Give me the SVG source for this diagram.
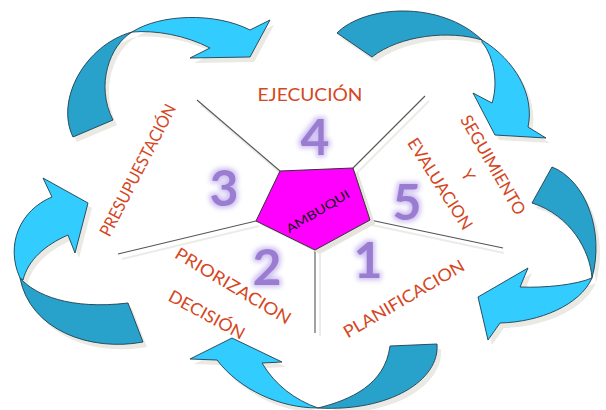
<svg xmlns="http://www.w3.org/2000/svg" xmlns:xlink="http://www.w3.org/1999/xlink" width="606" height="410" viewBox="0 0 606 410">
<style>
.sh{fill:#ebe9e3;stroke:none}
.dk{fill:#29a2cb;stroke:#1d3f50;stroke-width:0.9;stroke-linejoin:round}
.lt{fill:#33ccff;stroke:#1d3f50;stroke-width:0.9;stroke-linejoin:round}
.ray{stroke:#555;stroke-width:1.1;fill:none}
.raysh{stroke:#ecebe7;stroke-width:2;fill:none}
.lbl{font-family:Lato,"Open Sans","Liberation Sans",sans-serif;font-size:17px;fill:#d5471f;text-anchor:middle}
.num{font-family:Lato,"Liberation Sans",sans-serif;font-weight:bold;font-size:50px;fill:#9a7dd0;text-anchor:middle;filter:url(#glow)}
</style>
<defs>
<filter id="glow" x="-50%" y="-50%" width="200%" height="200%">
<feMorphology in="SourceAlpha" operator="dilate" radius="1.5" result="d"/>
<feGaussianBlur in="d" stdDeviation="2.5" result="db"/>
<feFlood flood-color="#cbbcf0" result="c"/>
<feComposite in="c" in2="db" operator="in" result="halo"/>
<feGaussianBlur in="SourceGraphic" stdDeviation="0.6" result="s"/>
<feMerge><feMergeNode in="halo"/><feMergeNode in="s"/></feMerge>
</filter>
<path id="a1d" d="M73,137 C55,100 85,45 132,32 C110,45 95,85 113,120 Z"/>
<path id="a1l" d="M132,32 C160,14 215,12 250,30 L270,20 L250,57 L190,58 L210,48 C185,35 155,30 132,32 Z"/>
<path id="a2d" d="M337,33 C365,5 440,0 482,40 C450,30 400,35 372,57 Z"/>
<path id="a2l" d="M482,40 C515,60 535,95 528,127 L546,138 L495,135 L473,93 L492,103 C498,85 495,58 482,42 Z"/>
<path id="a3d" d="M552,167 C585,180 605,230 592,278 C590,250 570,215 532,203 Z"/>
<path id="a3l" d="M592,278 C580,305 540,322 500,323 L488,340 L478,297 L528,268 L520,287 C545,288 575,285 592,278 Z"/>
<path id="a4d" d="M437,344 C440,380 390,412 318,408 C350,400 385,385 390,346 Z"/>
<path id="a4l" d="M318,408 C280,408 240,390 217,360 L190,359 L232,338 L282,362 L262,363 C275,385 295,400 318,408 Z"/>
<path id="a5d" d="M143,342 C90,352 30,330 20,278 C35,295 70,310 128,303 Z"/>
<path id="a5l" d="M20,278 C5,245 20,210 52,197 L43,178 L88,203 L75,253 L68,235 C45,245 28,260 23,280 Z"/>
</defs>
<rect width="606" height="410" fill="#ffffff"/>
<g id="connectors">
<g id="arrow1">
<use xlink:href="#a1d" class="sh" transform="translate(4,5)"/>
<use xlink:href="#a1l" class="sh" transform="translate(4,5)"/>
<use xlink:href="#a1d" class="dk"/>
<use xlink:href="#a1l" class="lt"/>
</g>
<g id="arrow2">
<use xlink:href="#a2d" class="sh" transform="translate(4,5)"/>
<use xlink:href="#a2l" class="sh" transform="translate(4,5)"/>
<use xlink:href="#a2d" class="dk"/>
<use xlink:href="#a2l" class="lt"/>
</g>
<g id="arrow3">
<use xlink:href="#a3d" class="sh" transform="translate(4,5)"/>
<use xlink:href="#a3l" class="sh" transform="translate(4,5)"/>
<use xlink:href="#a3d" class="dk"/>
<use xlink:href="#a3l" class="lt"/>
</g>
<g id="arrow4">
<use xlink:href="#a4d" class="sh" transform="translate(4,5)"/>
<use xlink:href="#a4l" class="sh" transform="translate(4,5)"/>
<use xlink:href="#a4d" class="dk"/>
<use xlink:href="#a4l" class="lt"/>
</g>
<g id="arrow5">
<use xlink:href="#a5d" class="sh" transform="translate(4,5)"/>
<use xlink:href="#a5l" class="sh" transform="translate(4,5)"/>
<use xlink:href="#a5d" class="dk"/>
<use xlink:href="#a5l" class="lt"/>
</g>
</g>
<g id="rays">
<line class="raysh" x1="283" y1="175" x2="201" y2="105"/>
<line class="raysh" x1="357" y1="173" x2="429" y2="101"/>
<line class="raysh" x1="372" y1="225" x2="504" y2="253"/>
<line class="raysh" x1="320" y1="254" x2="320" y2="336"/>
<line class="raysh" x1="259" y1="226" x2="122" y2="259"/>
<line class="ray" x1="280" y1="171" x2="197" y2="100"/>
<line class="ray" x1="353" y1="168" x2="425" y2="96"/>
<line class="ray" x1="370" y1="220" x2="503" y2="248"/>
<line class="ray" x1="315" y1="250" x2="315" y2="333"/>
<line class="ray" x1="256" y1="221" x2="118" y2="254"/>
</g>
<g id="center">
<polygon points="285,175 358,172 375,224 320,254 261,225" fill="#e6e4de"/>
<polygon points="280,171 353,168 370,220 315,250 256,221" fill="#ff00ff" stroke="#333" stroke-width="1"/>
<text transform="translate(320,215) rotate(-31)" font-family="Lato,'Liberation Sans',sans-serif" font-size="12" fill="#111" text-anchor="middle" textLength="72" lengthAdjust="spacingAndGlyphs">AMBUQUI</text>
</g>
<g id="step1">
<text class="num" x="368" y="278">1</text>
<text class="lbl" transform="translate(407,304) rotate(-30.3)" textLength="137" lengthAdjust="spacingAndGlyphs">PLANIFICACION</text>
</g>
<g id="step2">
<text class="num" x="267" y="285">2</text>
<text class="lbl" transform="translate(230,291) rotate(31)" textLength="132" lengthAdjust="spacingAndGlyphs">PRIORIZACION</text>
<text class="lbl" transform="translate(204,320) rotate(28.4)" textLength="84" lengthAdjust="spacingAndGlyphs">DECISIÓN</text>
</g>
<g id="step3">
<text class="num" x="224" y="206">3</text>
<text class="lbl" transform="translate(143,173) rotate(-62.7)" textLength="146" lengthAdjust="spacingAndGlyphs">PRESUPUESTACIÓN</text>
</g>
<g id="step4">
<text class="num" x="315" y="155">4</text>
<text class="lbl" transform="translate(310,101)" textLength="105" lengthAdjust="spacingAndGlyphs">EJECUCIÓN</text>
</g>
<g id="step5">
<text class="num" x="407" y="220">5</text>
<text class="lbl" transform="translate(488,168) rotate(59.8)" textLength="112" lengthAdjust="spacingAndGlyphs">SEGUIMIENTO</text>
<text class="lbl" transform="translate(463,178) rotate(59.8)">Y</text>
<text class="lbl" transform="translate(435,187) rotate(57.3)" textLength="105" lengthAdjust="spacingAndGlyphs">EVALUACION</text>
</g>
</svg>
